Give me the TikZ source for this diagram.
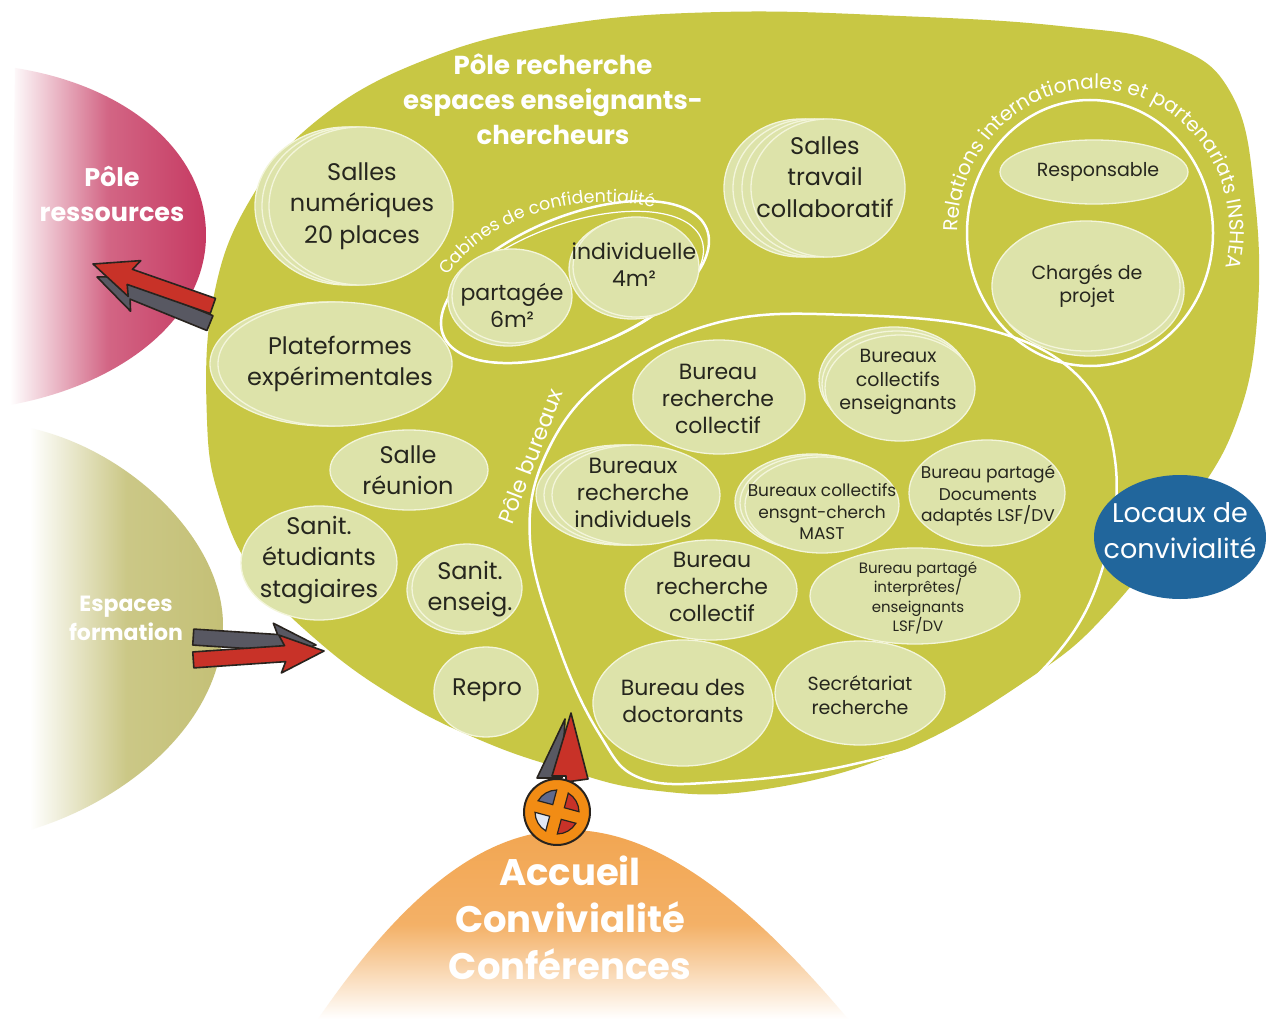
\documentclass[tikz,border=0pt]{standalone}
\usepackage{fontspec}
\setmainfont{Poppins}
\usetikzlibrary{decorations.text}
\definecolor{blob}{RGB}{200,199,68}
\definecolor{room}{RGB}{221,227,170}
\definecolor{roomline}{RGB}{243,245,218}
\definecolor{txt}{RGB}{38,38,30}
\definecolor{pinkc}{RGB}{198,58,98}
\definecolor{khaki}{RGB}{196,192,118}
\definecolor{orangec}{RGB}{242,166,82}
\definecolor{bluec}{RGB}{33,102,156}
\definecolor{arrred}{RGB}{200,50,40}
\definecolor{arrgrey}{RGB}{88,88,98}
\definecolor{outl}{RGB}{40,35,30}
\definecolor{compassc}{RGB}{242,140,20}
\definecolor{winblue}{RGB}{95,105,140}
\definecolor{winwhite}{RGB}{225,232,245}
\newcommand\fsz[2]{\fontsize{#1}{#2}\selectfont}
\tikzset{
  roomshape/.style={fill=room, draw=roomline, line width=1.3pt},
  roomtext/.style={align=center, text=txt, inner sep=0pt},
  whiteline/.style={draw=white, line width=2.5pt},
  titletext/.style={align=center, text=white, inner sep=0pt},
  arrowbody/.style={draw=outl, line width=1.6pt, line join=round},
  fA/.style={font=\fsz{24}{31.5}},
  fB/.style={font=\fsz{22}{27}},
  fC/.style={font=\fsz{19}{23.5}},
  fD/.style={font=\fsz{17}{21.5}},
  fE/.style={font=\fsz{15}{19.5}},
}
\newcommand\room[7]{%
  \path[roomshape] #2 ellipse [x radius=#3, y radius=#4];
  \node[roomtext, #5] (#1) at #7 {#6};}
\newcommand\layer[3]{\path[roomshape] #1 ellipse [x radius=#2, y radius=#3];}
\newcommand\blockarrow[5]{%
  \begin{scope}[shift={#1}, rotate=#2]
    \coordinate (#5) at (0,0);
    \filldraw[arrowbody, fill=#4] (0,0) -- (-44,19) -- (-39,8) -- (-#3,8) -- (-#3,-8) -- (-39,-8) -- (-44,-19) -- cycle;
  \end{scope}}
\begin{document}
\begin{tikzpicture}[x=1pt,y=-1pt]
\useasboundingbox (0,0) rectangle (1266,1019);
\fill[white] (0,0) rectangle (1266,1019);

% side regions
\path[shading=axis, left color=white, right color=pinkc, middle color=pinkc!78!white]
  (15,68) .. controls (125,85) and (206,150) .. (206,235) .. controls (206,320) and (120,385) .. (10,405) -- cycle;
\path[shading=axis, left color=white, right color=khaki, middle color=khaki!88!white]
  (30,428) .. controls (130,450) and (223,540) .. (223,625) .. controls (223,720) and (130,800) .. (30,830) -- cycle;
\path[shading=axis, top color=orangec, bottom color=white, middle color=orangec!88!white]
  (318,1019) .. controls (420,870) and (500,830) .. (570,830) .. controls (650,830) and (740,890) .. (848,1019) -- cycle;

% main blob
\fill[blob] plot[smooth cycle, tension=0.7] coordinates {
 (207,420) (213,300) (250,200) (320,118) (430,58) (560,25) (720,12) (900,16) (1060,26) (1170,45)
 (1232,95) (1255,200) (1257,320) (1237,420) (1190,505) (1110,610) (1030,678) (900,752) (760,790)
 (650,790) (560,768) (480,740) (400,700) (320,643) (255,575) (220,500)};

% outlines of groups
\draw[whiteline] plot[smooth cycle, tension=0.65] coordinates {
 (530,540) (548,450) (610,375) (720,322) (850,315) (990,330) (1080,378) (1115,460) (1105,560)
 (1060,650) (970,725) (850,765) (720,782) (640,778) (600,735) (560,650)};
\draw[whiteline, rotate around={22:(575,282)}] (575,282) ellipse [x radius=142, y radius=66];
\draw[white, line width=1.2pt, rotate around={20:(572,287)}] (572,287) ellipse [x radius=138, y radius=63];
\draw[whiteline] (1090,233) ellipse [x radius=123, y radius=133];

% rooms left
\layer{(347,206)}{92}{79}\layer{(354,206)}{92}{79}
\room{sn}{(361,206)}{92}{79}{fA}{Salles\\numériques\\20 places}{(362,206)}
\layer{(327,364)}{117}{62}
\room{pe}{(335,364)}{117}{62}{fA}{Plateformes\\expérimentales}{(340,364)}
\room{sr}{(409,470)}{79}{40}{fA}{Salle\\réunion}{(408,470)}
\room{se}{(319,563)}{78}{57}{fA}{Sanit.\\étudiants\\stagiaires}{(319,560)}
\layer{(462,590)}{55}{44}
\room{sg}{(467,588)}{55}{44}{fA}{Sanit.\\enseig.}{(470,589)}
\room{rp}{(486,692)}{52}{45}{fA}{Repro}{(487,690)}

% cabines
\layer{(508,299)}{60}{47}
\room{pa}{(512,296)}{60}{47}{fB}{partagée\\6m²}{(512,305)}
\layer{(632,269)}{63}{50}
\room{in}{(636,267)}{63}{50}{fB}{individuelle\\4m²}{(634,265)}

% salles travail
\layer{(801,188)}{77}{69}\layer{(810,188)}{77}{69}\layer{(819,188)}{77}{69}
\room{st}{(828,188)}{77}{69}{fA}{Salles\\travail\\collaboratif}{(825,177)}

% relations
\room{re}{(1094,172)}{94}{32}{fC}{Responsable}{(1098,172)}
\layer{(1090,291)}{94}{65}
\room{cp}{(1086,286)}{94}{65}{fC}{Chargés de\\projet}{(1087,286)}

% pole bureaux
\room{brc}{(719,397)}{86}{57}{fB}{Bureau\\recherche\\collectif}{(718,399)}
\layer{(894,380)}{75}{53}\layer{(897,384)}{75}{53}
\room{bce}{(900,388)}{75}{53}{fC}{Bureaux\\collectifs\\enseignants}{(898,382)}
\layer{(620,495)}{84}{50}\layer{(628,495)}{84}{50}
\room{bri}{(636,495)}{84}{50}{fB}{Bureaux\\recherche\\individuels}{(633,493)}
\layer{(812,502)}{77}{48}\layer{(817,503)}{77}{48}
\room{bm}{(822,505)}{77}{48}{fD}{Bureaux collectifs\\ensgnt-cherch\\MAST}{(822,512)}
\room{bd}{(987,493)}{78}{53}{fD}{Bureau partagé\\Documents\\adaptés LSF/DV}{(988,496)}
\room{brc2}{(711,590)}{86}{50}{fB}{Bureau\\recherche\\collectif}{(712,587)}
\room{bi}{(915,596)}{105}{48}{fE}{Bureau partagé\\interprêtes/\\enseignants\\LSF/DV}{(918,598)}
\room{bdo}{(683,703)}{90}{63}{fB}{Bureau des\\doctorants}{(683,701)}
\room{sec}{(860,693)}{85}{52}{fC}{Secrétariat\\recherche}{(860,695)}

% labels in white
\node[titletext, font=\bfseries\fsz{26}{35}] (prt) at (553,99) {Pôle recherche\\espaces enseignants-\\chercheurs};
\node[titletext, rotate=69, font=\fsz{22}{22}] (pb) at (530,456) {Pôle bureaux};
\path[decorate, decoration={text along path, text align=center,
  text={|\fsz{17.5}{17.5}\color{white}|Cabines de confidentialité}}]
  (438,292) .. controls (473,220) and (580,183) .. (672,212);
\path[decorate, decoration={text along path, text align=center,
  text={|\fsz{20}{20}\color{white}|Relations internationales et partenariats INSHEA}}]
  (1094,231) ++(162:136 and 142) arc [start angle=162, end angle=393, x radius=136, y radius=142];

% locaux
\fill[bluec] (1180,537) ellipse [x radius=86, y radius=62];
\node[titletext, font=\fsz{27}{36}] (loc) at (1180,531) {Locaux de\\convivialité};

% side labels
\node[titletext, font=\bfseries\fsz{25.5}{35}] (pr) at (112,194) {Pôle\\ressources};
\node[titletext, font=\bfseries\fsz{22}{29}] (ef) at (126,618) {Espaces\\formation};
\node[titletext, font=\bfseries\fsz{37}{47}] (ac) at (570,918) {Accueil\\Convivialité\\Conférences};

% arrows
\blockarrow{(97,277)}{157.8}{122}{arrgrey}{a1}
\blockarrow{(93,264)}{160.7}{127}{arrred}{a2}
\blockarrow{(316,645)}{-3.7}{123}{arrgrey}{a3}
\blockarrow{(324,651)}{3.9}{131}{arrred}{a4}
\filldraw[arrowbody, fill=arrgrey] (565,719) -- (537,778) -- (562,778) -- cycle;
\filldraw[arrowbody, fill=arrred] (571,713) -- (552,776) -- (566,776) -- (566,782) -- (588,779) -- cycle;

% compass
\begin{scope}[shift={(557,812)}, rotate=-15]
  \filldraw[fill=compassc, draw=outl, line width=2pt] (0,0) circle [radius=33];
  \filldraw[fill=arrred, draw=outl, line width=1.2pt] (6,6) -- (74.2:22) arc [start angle=74.2, end angle=15.8, radius=22] -- cycle;
  \filldraw[fill=winwhite, draw=outl, line width=1.2pt] (-6,6) -- (105.8:22) arc [start angle=105.8, end angle=164.2, radius=22] -- cycle;
  \filldraw[fill=winblue, draw=outl, line width=1.2pt] (-6,-6) -- (195.8:22) arc [start angle=195.8, end angle=254.2, radius=22] -- cycle;
  \filldraw[fill=arrred, draw=outl, line width=1.2pt] (6,-6) -- (285.8:22) arc [start angle=285.8, end angle=344.2, radius=22] -- cycle;
\end{scope}
\end{tikzpicture}
\end{document}
